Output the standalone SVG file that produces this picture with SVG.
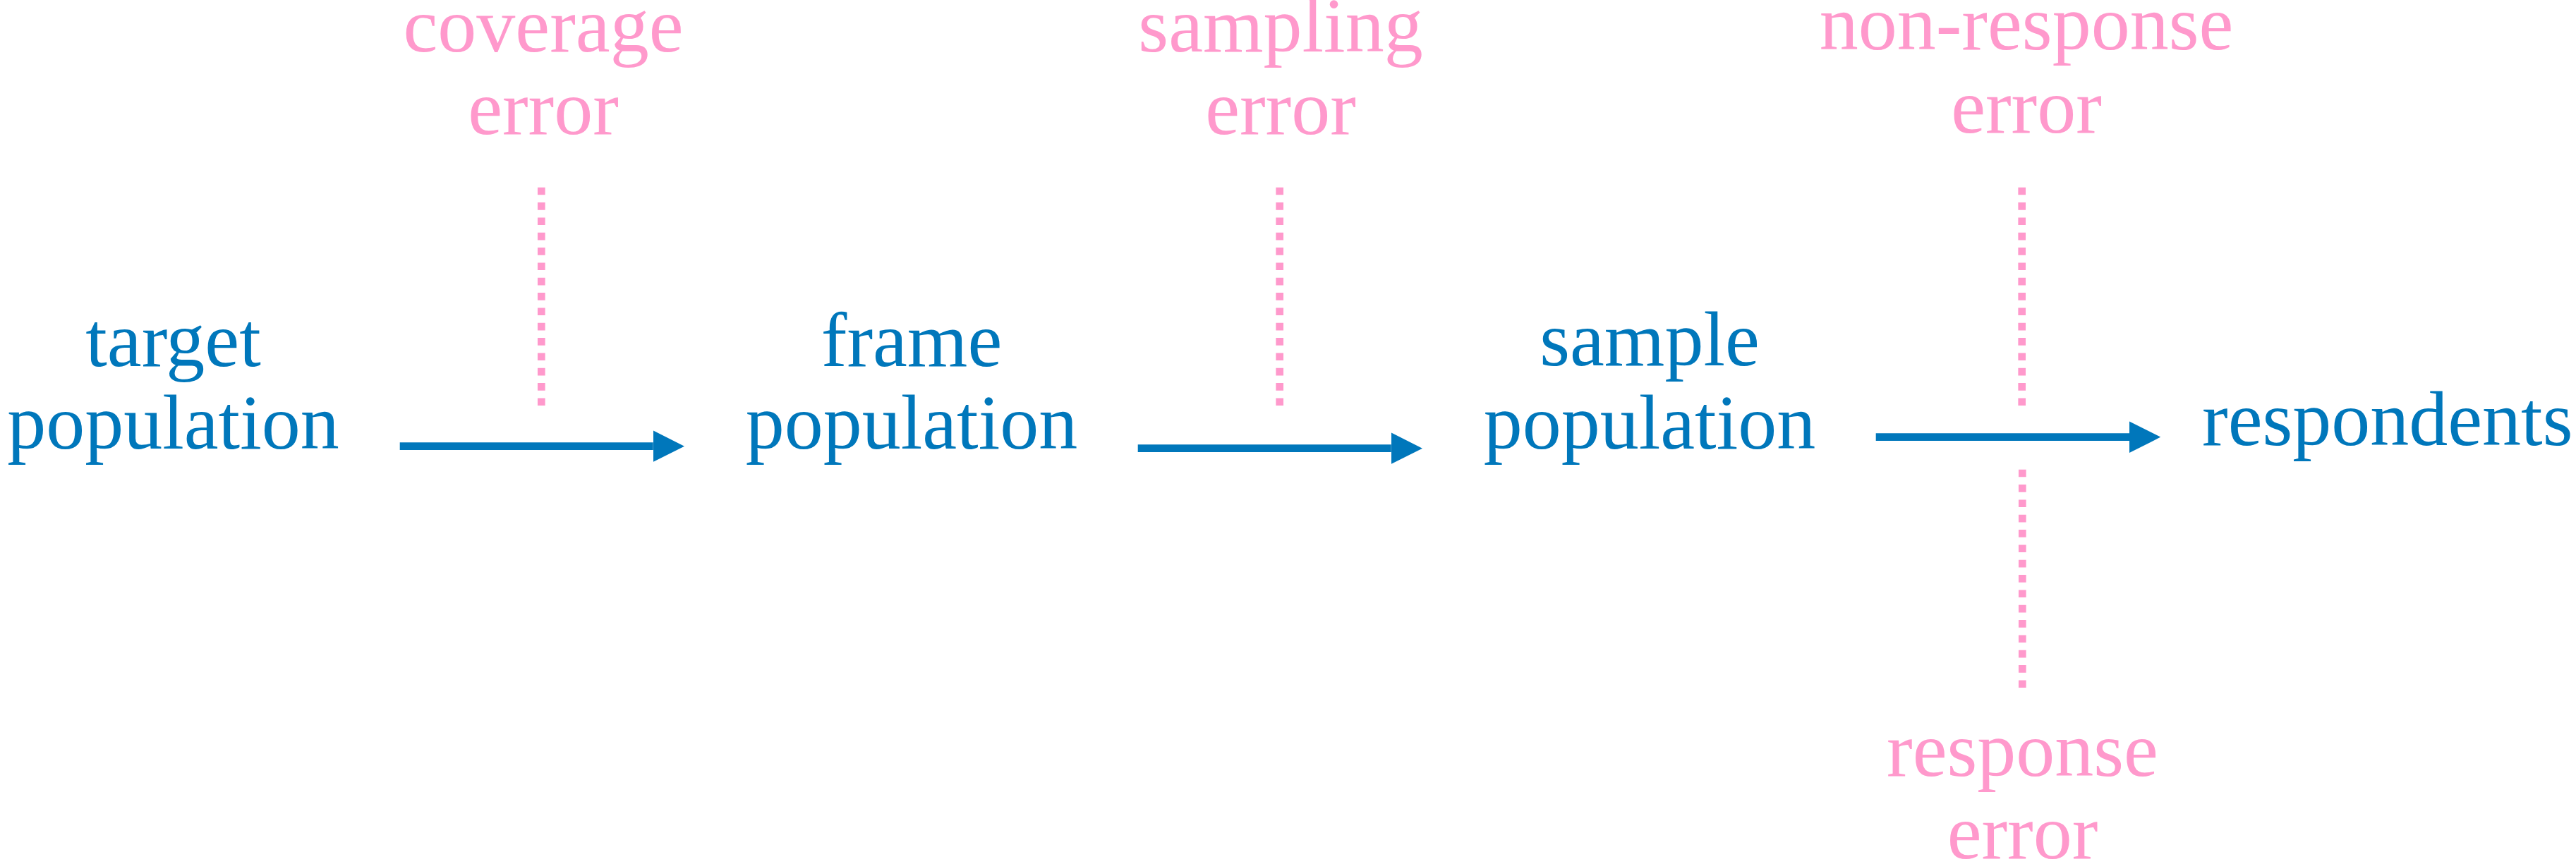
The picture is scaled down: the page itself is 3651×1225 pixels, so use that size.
<svg xmlns="http://www.w3.org/2000/svg" width="3651" height="1225" viewBox="0 0 3651 1225">
<style>
.node{font-family:"Liberation Serif","Times New Roman",serif;font-size:110px;fill:#0077BB;text-anchor:middle}
.err{font-family:"Liberation Serif","Times New Roman",serif;font-size:110px;fill:#FF99CC;text-anchor:middle}
.arrow{stroke:#0077BB;stroke-width:10.7;fill:none;marker-end:url(#head)}
.dots{stroke:#FF99CC;stroke-width:10.67;stroke-dasharray:10.67 10.67;fill:none}
</style>
<defs>
<marker id="head" viewBox="0 0 44.3 44.6" refX="0" refY="22.3" markerWidth="44.3" markerHeight="44.6" markerUnits="userSpaceOnUse" orient="auto">
<path d="M0,0 L44.3,22.3 L0,44.6 Z" fill="#0077BB"/>
</marker>
</defs>
<rect width="3651" height="1225" fill="#ffffff"/>
<g id="target-population"><text class="node" x="245.5" y="519">target</text><text class="node" x="245.5" y="636">population</text></g>
<g id="frame-population"><text class="node" x="1292" y="519">frame</text><text class="node" x="1292" y="636">population</text></g>
<g id="sample-population"><text class="node" x="2338" y="518">sample</text><text class="node" x="2338" y="636">population</text></g>
<g id="respondents"><text class="node" x="3121" y="630.5" style="text-anchor:start">respondents</text></g>
<g id="coverage-error"><text class="err" x="770" y="73">coverage</text><text class="err" x="770" y="190">error</text></g>
<g id="sampling-error"><text class="err" x="1815" y="73">sampling</text><text class="err" x="1815" y="190">error</text></g>
<g id="non-response-error"><text class="err" x="2872" y="70">non-response</text><text class="err" x="2872" y="188">error</text></g>
<g id="response-error"><text class="err" x="2866.5" y="1100">response</text><text class="err" x="2866.5" y="1217">error</text></g>
<g id="connectors">
<line class="arrow" x1="566.7" y1="632.7" x2="925.7" y2="632.7"/>
<line class="arrow" x1="1612.7" y1="635.7" x2="1971.7" y2="635.7"/>
<line class="arrow" x1="2658.7" y1="619.7" x2="3018" y2="619.7"/>
<line class="dots" x1="767.3" y1="265.7" x2="767.3" y2="575"/>
<line class="dots" x1="1813.7" y1="265.7" x2="1813.7" y2="575"/>
<line class="dots" x1="2865.7" y1="265.7" x2="2865.7" y2="575"/>
<line class="dots" x1="2866.3" y1="665.7" x2="2866.3" y2="975"/>
</g>
</svg>
